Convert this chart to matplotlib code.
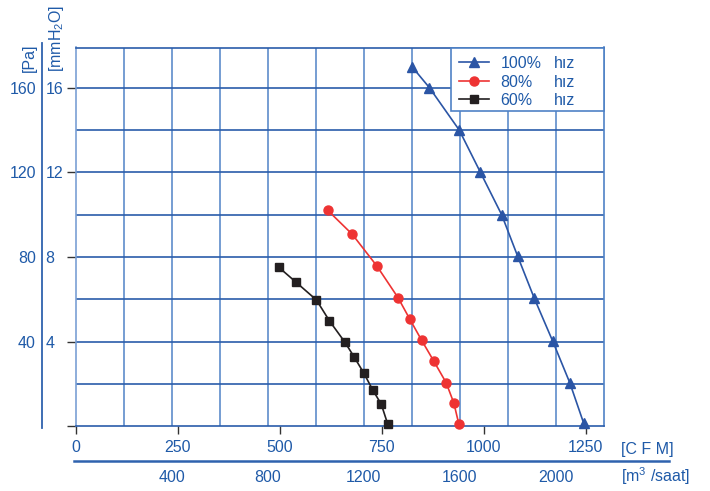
import matplotlib
matplotlib.use("Agg")
import matplotlib.pyplot as plt
from matplotlib.lines import Line2D
from matplotlib.patches import Rectangle

plt.rcParams['font.family'] = ['Liberation Sans', 'DejaVu Sans']
plt.rcParams['mathtext.fontset'] = 'custom'
plt.rcParams['mathtext.rm'] = 'Liberation Sans'

# ---- data (CFM vs Pa) ----
cfm_100 = [824, 867, 940, 992, 1044, 1083, 1124, 1169, 1211, 1245]
pa_100 = [170, 160, 140, 120, 100, 80.5, 60.5, 40.3, 20.6, 1.5]
cfm_80 = [618, 678, 738, 790, 819, 848, 878, 908, 927, 939]
pa_80 = [102, 90.7, 75.8, 60.8, 50.6, 40.6, 30.7, 20.6, 10.9, 1.1]
cfm_60 = [498, 540, 590, 622, 660, 683, 706, 728, 749, 765]
pa_60 = [75.1, 68.1, 59.7, 49.8, 39.7, 32.6, 25.2, 17.2, 10.4, 0.9]

series_labels = ['100%', '80%', '60%']
speed_word = 'hız'

cfm_ticks = [0, 250, 500, 750, 1000, 1250]
m3h_ticks = [400, 800, 1200, 1600, 2000]
pa_ticks = [40, 80, 120, 160]
mmh2o_labels = ['4', '8', '12', '16']
CFM_TO_M3H = 1.699

BLUE_TXT = '#1f5aa8'
GRID_H = '#2a5caa'
GRID_V = '#4f82c6'
C100 = '#2b55a5'
C80 = '#ee3333'
C60 = '#231f20'
FS = 11.5

W, H = 710, 491
fig = plt.figure(figsize=(W / 100, H / 100), dpi=100)
L, R, T, B = 75.7, 604.0, 47.5, 426.3
ax = fig.add_axes([L / W, (H - B) / H, (R - L) / W, (B - T) / H])

xmax = 2200 / CFM_TO_M3H
ax.set_xlim(0, xmax)
ax.set_ylim(0, 179)

# grid
for k in range(1, 11):
    ax.axvline(k * 200 / CFM_TO_M3H, color=GRID_V, lw=1.1, zorder=1)
for v in range(20, 180, 20):
    ax.axhline(v, color=GRID_H, lw=1.2, zorder=1)
for s in ax.spines.values():
    s.set_color(GRID_H)
    s.set_linewidth(1.2)
ax.spines['left'].set_color('#7aa0d4')
ax.spines['right'].set_color(GRID_V)

# series
ax.plot(cfm_100, pa_100, color=C100, lw=1.2, marker='^', ms=6.5, zorder=3, clip_on=False)
ax.plot(cfm_80, pa_80, color=C80, lw=1.2, marker='o', ms=6.5, zorder=3, clip_on=False)
ax.plot(cfm_60, pa_60, color=C60, lw=1.2, marker='s', ms=6.2, zorder=3, clip_on=False)

# ticks
ax.set_xticks(cfm_ticks)
ax.set_xticklabels([str(t) for t in cfm_ticks])
ax.tick_params(axis='x', direction='out', length=5.8, width=1, color='#333333',
               labelcolor=BLUE_TXT, labelsize=FS, pad=4)
ax.set_yticks([0] + pa_ticks)
ax.tick_params(axis='y', direction='out', length=6.5, width=1, color='#333333',
               labelleft=False)

ytr = ax.get_yaxis_transform()
xa = lambda px: (px - L) / (R - L)
ya = lambda py: (B - py) / (B - T)
for v, m in zip(pa_ticks, mmh2o_labels):
    ax.text(xa(36), v, str(v), transform=ytr, ha='right', va='center_baseline',
            fontsize=FS, color=BLUE_TXT, clip_on=False)
    ax.text(xa(45.7), v, m, transform=ytr, ha='left', va='center_baseline',
            fontsize=FS, color=BLUE_TXT, clip_on=False)

# second x scale labels (m3/h)
xtr = ax.get_xaxis_transform()
for t in m3h_ticks:
    ax.text(t / CFM_TO_M3H, ya(475.5), str(t), transform=xtr, ha='center',
            va='center_baseline', fontsize=FS, color=BLUE_TXT, clip_on=False)

# unit labels
fig.text(621 / W, (H - 448) / H, '[C F M]', ha='left', va='center_baseline',
         fontsize=FS, color=BLUE_TXT)
fig.text(621 / W, (H - 474) / H, r'[m$^\mathregular{3}$ /saat]', ha='left',
         va='center_baseline', fontsize=FS, color=BLUE_TXT)
fig.text(29 / W, (H - 72) / H, '[Pa]', rotation=90, ha='center', va='bottom',
         fontsize=FS, color=BLUE_TXT)
fig.text(56 / W, (H - 72) / H, r'[mmH$_\mathregular{2}$O]', rotation=90,
         ha='center', va='bottom', fontsize=FS, color=BLUE_TXT)

# separator lines
fig.add_artist(Line2D([41.7 / W, 41.7 / W], [(H - 428) / H, (H - 43) / H],
                      color='#2f62ae', lw=1.3))
fig.add_artist(Line2D([74.3 / W, 669 / W], [(H - 460.7) / H, (H - 460.7) / H],
                      color='#2f62ae', lw=1.8))

# legend (manual)
lx0 = xa(451)
ly0 = ya(110.7)
ax.add_patch(Rectangle((lx0, ly0), 1 - lx0, 1 - ly0, transform=ax.transAxes,
                       fc='white', ec=GRID_V, lw=1.2, zorder=5, clip_on=False))
rows = [ya(62.3), ya(80.7), ya(99.0)]
styles = [(C100, '^', 6.5), (C80, 'o', 6.5), (C60, 's', 6.2)]
for yy, lab, (c, mk, ms) in zip(rows, series_labels, styles):
    ax.add_line(Line2D([xa(459), xa(489)], [yy, yy], color=c, lw=1.2,
                       transform=ax.transAxes, zorder=6, clip_on=False))
    ax.add_line(Line2D([xa(474)], [yy], color=c, marker=mk, ms=ms, lw=0,
                       transform=ax.transAxes, zorder=6, clip_on=False))
    ax.text(xa(500.7), yy, lab, transform=ax.transAxes, ha='left',
            va='center_baseline', fontsize=FS, color=BLUE_TXT, zorder=6)
    ax.text(xa(554), yy, speed_word, transform=ax.transAxes, ha='left',
            va='center_baseline', fontsize=FS, color=BLUE_TXT, zorder=6)

fig.savefig('out.png', dpi=100)
